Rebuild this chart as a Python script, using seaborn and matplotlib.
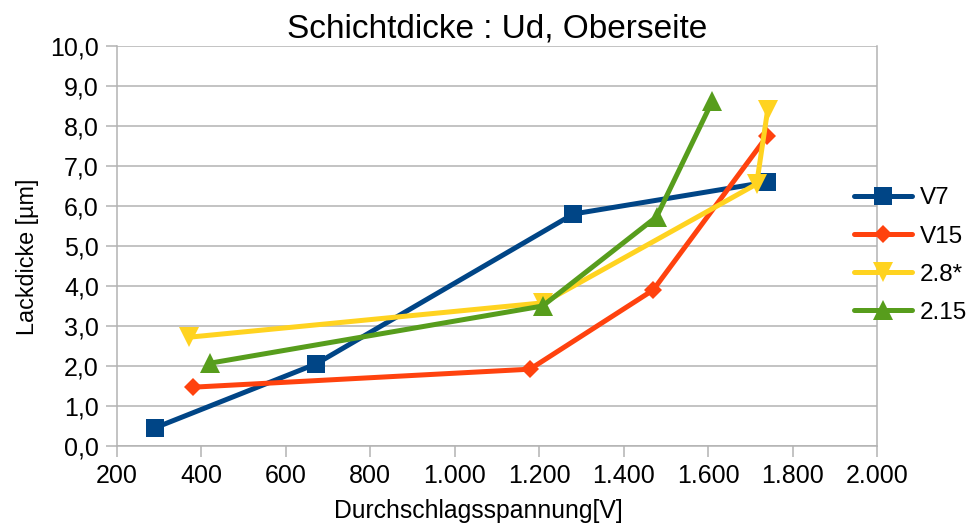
import seaborn as sns
import matplotlib.pyplot as plt
import matplotlib.ticker as ticker

# Durchschlagsspannung [V] / Lackdicke [um]
series_names = ["V7", "V15", "2.8*", "2.15"]
volt_v7 = [289, 671, 1281, 1740]
thick_v7 = [0.45, 2.05, 5.8, 6.6]
volt_v15 = [380, 1178, 1470, 1740]
thick_v15 = [1.47, 1.92, 3.9, 7.75]
volt_28 = [371, 1210, 1715, 1741]
thick_28 = [2.72, 3.58, 6.55, 8.4]
volt_215 = [420, 1208, 1478, 1610]
thick_215 = [2.07, 3.5, 5.73, 8.62]

x_ticks = [200, 400, 600, 800, 1000, 1200, 1400, 1600, 1800, 2000]
y_ticks = [0, 1, 2, 3, 4, 5, 6, 7, 8, 9, 10]

sns.set_theme(style="white")
plt.rcParams['font.family'] = ['Liberation Sans', 'DejaVu Sans']
plt.rcParams['text.color'] = 'black'
plt.rcParams['axes.labelcolor'] = 'black'

fig = plt.figure(figsize=(9.73, 5.25), dpi=100)
ax = fig.add_axes([0.1203, 0.1505, 0.7810, 0.7619])

styles = [
    ("#004586", "s", 13.5),
    ("#ff420e", "D", 9.5),
    ("#ffd320", "v", 14),
    ("#579d1c", "^", 14),
]
datas = [(volt_v7, thick_v7), (volt_v15, thick_v15),
         (volt_28, thick_28), (volt_215, thick_215)]

for (xs, ys), name, (col, mk, ms) in zip(datas, series_names, styles):
    sns.lineplot(x=xs, y=ys, ax=ax, color=col, marker=mk, markersize=ms,
                 markeredgewidth=0, linewidth=3.6, label=name,
                 sort=False, estimator=None)

ax.set_xlim(200, 2000)
ax.set_ylim(0, 10)
ax.set_xticks(x_ticks)
ax.set_yticks(y_ticks)
ax.xaxis.set_major_formatter(ticker.FuncFormatter(lambda v, p: f"{int(v):,}".replace(",", ".")))
ax.yaxis.set_major_formatter(ticker.FuncFormatter(lambda v, p: f"{v:.1f}".replace(".", ",")))

ax.grid(axis='y', color='#b3b3b3', linewidth=1.1)
ax.grid(axis='x', visible=False)
ax.set_axisbelow(True)
for side in ['left', 'bottom', 'right']:
    ax.spines[side].set_color('#b3b3b3')
    ax.spines[side].set_linewidth(1.1)
ax.spines['top'].set_visible(False)
ax.tick_params(axis='both', direction='out', length=8, width=1.1, color='#b3b3b3',
               labelsize=18, labelcolor='black', pad=5, bottom=True, left=True)

ax.set_title("Schichtdicke : Ud, Oberseite", fontsize=24, pad=6, color='black')
ax.set_xlabel("Durchschlagsspannung[V]", fontsize=17.8)
ax.set_ylabel("Lackdicke [µm]", fontsize=16.8)
# label placement as in the original (x label sits a bit left of centre)
ax.xaxis.set_label_coords(0.476, -0.1625, transform=ax.transAxes)
ax.xaxis.label.set_va('center')
ax.yaxis.set_label_coords(-0.118, 0.473, transform=ax.transAxes)
ax.yaxis.label.set_va('center')

ax.get_legend().remove()
handles, labels = ax.get_legend_handles_labels()
fig.legend(handles, labels, loc='center left', bbox_to_anchor=(0.865, 0.513),
           frameon=False, fontsize=17.5, handlelength=2.4, handletextpad=0.3,
           labelspacing=0.665, borderpad=0)

plt.savefig("out.png", dpi=100)
